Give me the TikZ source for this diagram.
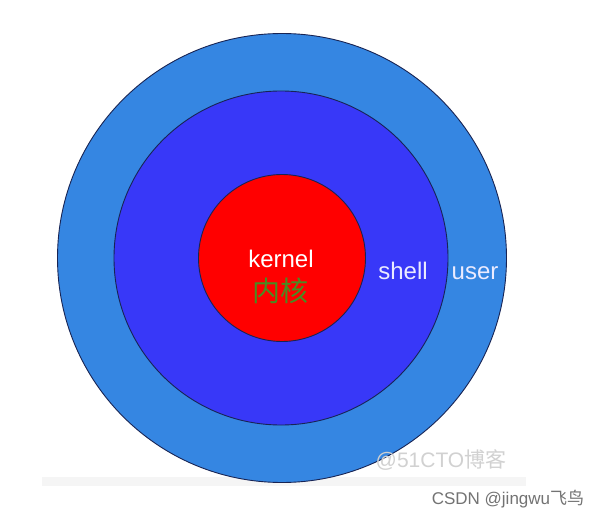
\documentclass[tikz,border=0pt]{standalone}
\usepackage{fontspec}
\setmainfont{Liberation Sans}
\newfontfamily\cjk{Noto Sans CJK SC}
\usepackage{tikz}
\definecolor{userblue}{RGB}{53,134,226}
\definecolor{shellblue}{RGB}{56,56,248}
\definecolor{kernelred}{RGB}{255,0,0}
\definecolor{rimline}{RGB}{24,36,84}
\definecolor{cngreen}{RGB}{72,140,34}
\tikzstyle{ring}=[draw=rimline, circle, line width=0.9pt, inner sep=0pt]
\tikzstyle{lbl}=[font=\fontsize{24}{28}\selectfont, inner sep=0pt, anchor=base]
\tikzstyle{wmtext}=[inner sep=0pt, anchor=base]

\begin{document}
\begin{tikzpicture}[x=1pt,y=-1pt]
  \useasboundingbox[fill=white] (0,0) rectangle (597,516);
  % faint edge of the screenshot
  \fill[black!4] (42,477) rectangle (526,486);

  \node[ring, fill=userblue, minimum size=449pt] at (282,258) (user) {};
  \node[ring, fill=shellblue, minimum size=334pt] at (281,258) (shell) {};
  \node[ring, fill=kernelred, minimum size=167pt] at (282,258) (kernel) {};

  \node[lbl, text=white] at (281,267) (kname) {kernel};
  \node[font=\cjk\fontsize{28}{32}\selectfont, text=cngreen, inner sep=0pt] at (280,291) (kcn) {内核};
  \node[lbl, text=white!92!blue] at (403,279) (sname) {shell};
  \node[lbl, text=white!92!blue] at (475,279) (uname) {user};

  % watermarks
  \node[wmtext, font=\fontsize{21}{24}\selectfont, text=black!18] at (441,467) (wm) {@51CTO{\cjk 博客}};
  \node[wmtext, font=\fontsize{17}{20}\selectfont, text=black!55] at (508,504) (csdn) {CSDN @jingwu{\cjk 飞鸟}};
\end{tikzpicture}
\end{document}
